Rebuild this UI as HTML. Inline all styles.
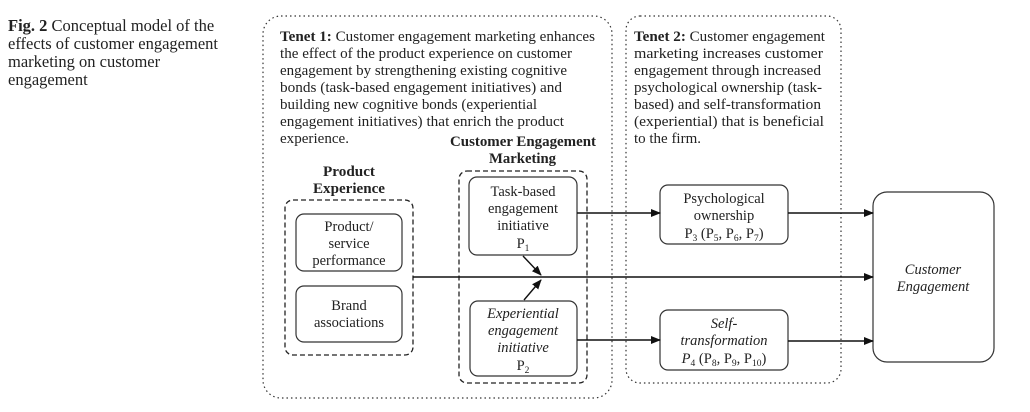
<!DOCTYPE html>
<html><head><meta charset="utf-8"><style>
html,body{margin:0;padding:0;background:#fff;width:1030px;height:412px;overflow:hidden}
svg{display:block}
.c{font-family:"Liberation Serif",serif;font-size:16.5px;fill:#222}
.t{font-family:"Liberation Serif",serif;font-size:14.5px;fill:#222}
.b{font-weight:bold}
.i{font-style:italic}
</style></head><body>
<svg width="1030" height="412" viewBox="0 0 1030 412" xmlns="http://www.w3.org/2000/svg">
<defs><marker id="a" markerWidth="10" markerHeight="8" refX="9" refY="4" orient="auto" markerUnits="userSpaceOnUse"><path d="M0,0 L10,4 L0,8 z" fill="#111"/></marker></defs>
<!-- caption -->
<text class="c" x="8" y="31"><tspan class="b">Fig. 2</tspan>  Conceptual model of the</text>
<text class="c" x="8" y="49">effects of customer engagement</text>
<text class="c" x="8" y="67">marketing on customer</text>
<text class="c" x="8" y="85">engagement</text>
<!-- tenet boxes -->
<rect x="263" y="16" width="349" height="382" rx="18" fill="none" stroke="#333" stroke-width="1.2" stroke-dasharray="1.5 3"/>
<rect x="626" y="16" width="215" height="367" rx="14" fill="none" stroke="#333" stroke-width="1.2" stroke-dasharray="1.5 3"/>
<g class="t" lengthAdjust="spacingAndGlyphs">
<text x="280" y="41" textLength="315" lengthAdjust="spacingAndGlyphs"><tspan class="b">Tenet 1:</tspan> Customer engagement marketing enhances</text>
<text x="280" y="58" textLength="292" lengthAdjust="spacingAndGlyphs">the effect of the product experience on customer</text>
<text x="280" y="75" textLength="287" lengthAdjust="spacingAndGlyphs">engagement by strengthening existing cognitive</text>
<text x="280" y="92" textLength="282" lengthAdjust="spacingAndGlyphs">bonds (task-based engagement initiatives) and</text>
<text x="280" y="109" textLength="257" lengthAdjust="spacingAndGlyphs">building new cognitive bonds (experiential</text>
<text x="280" y="126" textLength="284" lengthAdjust="spacingAndGlyphs">engagement initiatives) that enrich the product</text>
<text x="280" y="143" textLength="69" lengthAdjust="spacingAndGlyphs">experience.</text>
<text x="634" y="41" textLength="191" lengthAdjust="spacingAndGlyphs"><tspan class="b">Tenet 2:</tspan> Customer engagement</text>
<text x="634" y="58" textLength="189" lengthAdjust="spacingAndGlyphs">marketing increases customer</text>
<text x="634" y="75" textLength="187" lengthAdjust="spacingAndGlyphs">engagement through increased</text>
<text x="634" y="92" textLength="188" lengthAdjust="spacingAndGlyphs">psychological ownership (task-</text>
<text x="634" y="109" textLength="187" lengthAdjust="spacingAndGlyphs">based) and self-transformation</text>
<text x="634" y="126" textLength="190" lengthAdjust="spacingAndGlyphs">(experiential) that is beneficial</text>
<text x="634" y="143" textLength="67" lengthAdjust="spacingAndGlyphs">to the firm.</text>
<text class="b" x="450" y="146" textLength="146" lengthAdjust="spacingAndGlyphs">Customer Engagement</text>
<text class="b" x="489" y="163" textLength="67" lengthAdjust="spacingAndGlyphs">Marketing</text>
<text class="b" x="323" y="176" textLength="52" lengthAdjust="spacingAndGlyphs">Product</text>
<text class="b" x="313" y="193" textLength="72" lengthAdjust="spacingAndGlyphs">Experience</text>
</g>
<!-- dashed groups -->
<rect x="285" y="200" width="128" height="155" rx="8" fill="none" stroke="#222" stroke-width="1.3" stroke-dasharray="5 3"/>
<rect x="459" y="171" width="128" height="212" rx="8" fill="none" stroke="#222" stroke-width="1.3" stroke-dasharray="5 3"/>
<!-- boxes -->
<g fill="#fff" stroke="#333" stroke-width="1.2">
<rect x="296" y="214" width="106" height="57" rx="8"/>
<rect x="296" y="286" width="106" height="56" rx="8"/>
<rect x="469" y="177" width="108" height="78" rx="8"/>
<rect x="470" y="301" width="107" height="75" rx="8"/>
<rect x="660" y="185" width="128" height="59" rx="8"/>
<rect x="660" y="310" width="128" height="60" rx="8"/>
<rect x="873" y="192" width="121" height="170" rx="14"/>
</g>
<g class="t" text-anchor="middle">
<text x="349" y="231">Product/</text>
<text x="349" y="248">service</text>
<text x="349" y="265">performance</text>
<text x="349" y="310">Brand</text>
<text x="349" y="327">associations</text>
<text x="523" y="196">Task-based</text>
<text x="523" y="213">engagement</text>
<text x="523" y="230">initiative</text>
<text x="523" y="248">P<tspan font-size="9.5" dy="3">1</tspan></text>
<text class="i" x="523" y="318">Experiential</text>
<text class="i" x="523" y="335">engagement</text>
<text class="i" x="523" y="352">initiative</text>
<text x="523" y="370">P<tspan font-size="9.5" dy="3">2</tspan></text>
<text x="724" y="203">Psychological</text>
<text x="724" y="220">ownership</text>
<text x="724" y="238">P<tspan font-size="9.5" dy="3">3</tspan><tspan dy="-3"> (P</tspan><tspan font-size="9.5" dy="3">5</tspan><tspan dy="-3">, P</tspan><tspan font-size="9.5" dy="3">6</tspan><tspan dy="-3">, P</tspan><tspan font-size="9.5" dy="3">7</tspan><tspan dy="-3">)</tspan></text>
<text class="i" x="724" y="328">Self-</text>
<text class="i" x="724" y="345">transformation</text>
<text x="724" y="363"><tspan class="i">P</tspan><tspan font-size="9.5" dy="3">4</tspan><tspan dy="-3"> (P</tspan><tspan font-size="9.5" dy="3">8</tspan><tspan dy="-3">, P</tspan><tspan font-size="9.5" dy="3">9</tspan><tspan dy="-3">, P</tspan><tspan font-size="9.5" dy="3">10</tspan><tspan dy="-3">)</tspan></text>
<text class="i" x="933" y="274">Customer</text>
<text class="i" x="933" y="291">Engagement</text>
</g>
<!-- connectors -->
<g stroke="#111" stroke-width="1.4" fill="none">
<line x1="577" y1="213" x2="660" y2="213" marker-end="url(#a)"/>
<line x1="788" y1="213" x2="873" y2="213" marker-end="url(#a)"/>
<line x1="413" y1="277" x2="873" y2="277" marker-end="url(#a)"/>
<line x1="577" y1="340" x2="660" y2="340" marker-end="url(#a)"/>
<line x1="788" y1="341" x2="873" y2="341" marker-end="url(#a)"/>
<line x1="523" y1="256" x2="541" y2="275" marker-end="url(#a)"/>
<line x1="524" y1="300" x2="541" y2="280" marker-end="url(#a)"/>
</g>
</svg>
</body></html>
